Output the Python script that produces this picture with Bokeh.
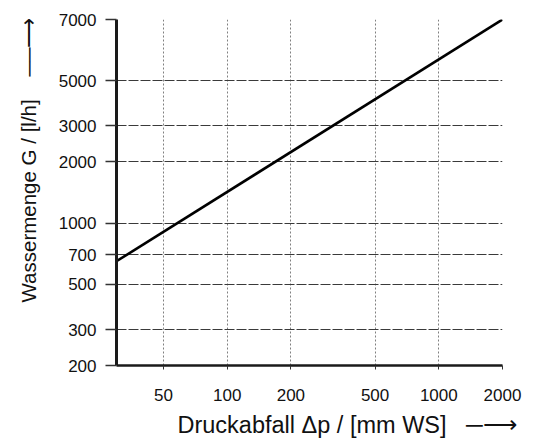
from bokeh.plotting import figure
from bokeh.models import FixedTicker, BasicTickFormatter, Title
from bokeh.embed import file_html
from bokeh.resources import INLINE

# data
dp = [30, 2000]            # Druckabfall [mm WS]
G = [650, 10000]           # Wassermenge [l/h]
x_ticks = [50, 100, 200, 500, 1000, 2000]
y_ticks = [200, 300, 500, 700, 1000, 2000, 3000, 5000, 10000]
y_tick_overrides = {10000: "7000"}
x_title = "Druckabfall \u0394p / [mm WS]"
y_title = "Wassermenge G / [l/h]"
X_ARROW = "\u00a0\u00a0\u00a0\u2500\u27f6"
Y_ARROW = "\u00a0\u00a0\u00a0\u00a0\u2500\u2500\u27f6"

FONT = "Liberation Sans"

p = figure(x_axis_type="log", y_axis_type="log",
           x_range=(30, 2000), y_range=(200, 10000),
           frame_width=386, frame_height=346,
           min_border_left=116, min_border_top=19,
           min_border_right=30, min_border_bottom=80,
           output_backend="svg", toolbar_location=None)
p.outline_line_color = None
p.background_fill_color = "white"

p.line(dp, G, line_color="black", line_width=2.6)

# axes
p.xaxis.ticker = FixedTicker(ticks=x_ticks)
p.yaxis.ticker = FixedTicker(ticks=y_ticks)
p.xaxis.formatter = BasicTickFormatter(use_scientific=False)
p.yaxis.formatter = BasicTickFormatter(use_scientific=False)
p.yaxis.major_label_overrides = y_tick_overrides
for ax in (p.xaxis, p.yaxis):
    ax.minor_tick_line_color = None
    ax.major_tick_in = 0
    ax.major_label_text_font = FONT
    ax.major_label_text_font_size = "17px"
    ax.major_label_text_color = "#111111"
    ax.axis_line_color = "#1a1a1a"
    ax.major_tick_line_color = "#333333"

p.yaxis.axis_line_width = 3
p.yaxis.major_tick_out = 11
p.yaxis.major_tick_line_width = 1.3
p.yaxis.major_label_standoff = 9

p.xaxis.axis_line_width = 2.5
p.xaxis.major_tick_out = 4
p.xaxis.major_tick_line_width = 1
p.xaxis.major_label_standoff = 19

# axis titles with direction arrows (side-panel titles)
p.add_layout(Title(text=x_title + X_ARROW, align="left", offset=61, standoff=13,
                   text_font=FONT, text_font_size="23.5px",
                   text_font_style="normal", text_color="#111111"), "below")
p.add_layout(Title(text=y_title + Y_ARROW, align="left", offset=63, standoff=28,
                   vertical_align="top",
                   text_font=FONT, text_font_size="20.5px",
                   text_font_style="normal", text_color="#111111"), "left")

# grids
p.ygrid.ticker = FixedTicker(ticks=y_ticks)
p.xgrid.ticker = FixedTicker(ticks=x_ticks)
p.ygrid.grid_line_color = "#3a3a3a"
p.ygrid.grid_line_width = 1
p.ygrid.grid_line_dash = "10 2"
p.xgrid.grid_line_color = "#808080"
p.xgrid.grid_line_width = 1
p.xgrid.grid_line_dash = "2 2"

open("out.html", "w").write(file_html(p, INLINE))
